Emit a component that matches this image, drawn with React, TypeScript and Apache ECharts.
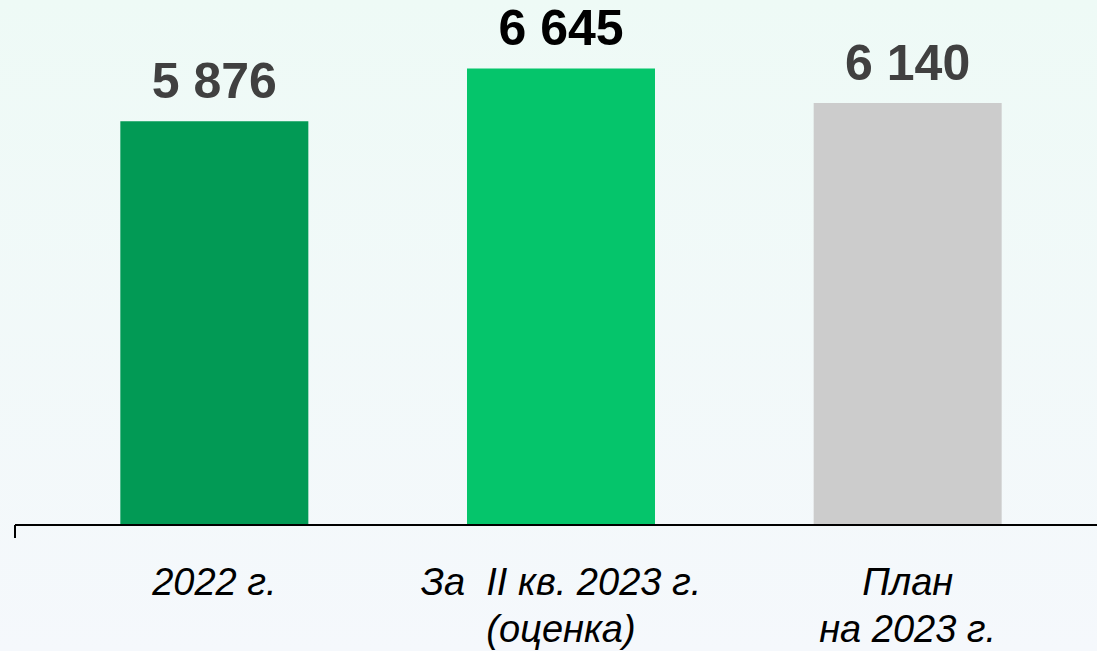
import React, { useEffect, useRef } from "react";
import * as echarts from "echarts";

const categories = ["2022 г.", "За  II кв. 2023 г.\n(оценка)", "План\nна 2023 г."];
const values = [5876, 6645, 6140];
const barColors = ["#029A55", "#05C56B", "#CCCCCC"];
const labelColors = ["#404040", "#000000", "#404040"];

const fmt = (v: number) => String(v).replace(/\B(?=(\d{3})+(?!\d))/g, " ");

export default function App() {
  const ref = useRef<HTMLDivElement>(null);
  useEffect(() => {
    if (!ref.current) return;
    const chart = echarts.init(ref.current, null, { renderer: "svg" });
    chart.setOption({
      animation: false,
      backgroundColor: {
        type: "linear",
        x: 0,
        y: 0,
        x2: 0,
        y2: 1,
        colorStops: [
          { offset: 0, color: "#EEFAF6" },
          { offset: 1, color: "#F5F8FC" },
        ],
      },
      grid: { left: 41, right: 16, top: 44, bottom: 126, outerBoundsMode: "none", containLabel: false },
      xAxis: {
        type: "category",
        data: categories,
        axisLine: { show: false },
        axisTick: { show: false },
        axisLabel: {
          color: "#000",
          fontFamily: "Liberation Sans, Arial, sans-serif",
          fontStyle: "italic",
          fontSize: 38,
          lineHeight: 47,
          margin: 33,
          interval: 0,
        },
      },
      yAxis: {
        type: "value",
        min: 0,
        max: 7000,
        show: false,
        splitLine: { show: false },
      },
      graphic: [
        {
          type: "line",
          shape: { x1: 15, y1: 525, x2: 1097, y2: 525 },
          style: { stroke: "#000", lineWidth: 2 },
          z: 10,
        },
        {
          type: "line",
          shape: { x1: 15, y1: 525, x2: 15, y2: 538 },
          style: { stroke: "#000", lineWidth: 2 },
          z: 10,
        },
      ],
      series: [
        {
          type: "bar",
          barWidth: 188,
          data: values.map((v, i) => ({
            value: v,
            itemStyle: { color: barColors[i] },
            label: { color: labelColors[i] },
          })),
          label: {
            show: true,
            position: "top",
            distance: 15,
            formatter: (p: any) => fmt(p.value),
            fontFamily: "Liberation Sans, Arial, sans-serif",
            fontWeight: "bold",
            fontSize: 50,
          },
        },
      ],
    });
    return () => chart.dispose();
  }, []);
  return (
    <div
      ref={ref}
      style={{ position: "fixed", left: 0, top: 0, width: 1097, height: 651 }}
    />
  );
}
